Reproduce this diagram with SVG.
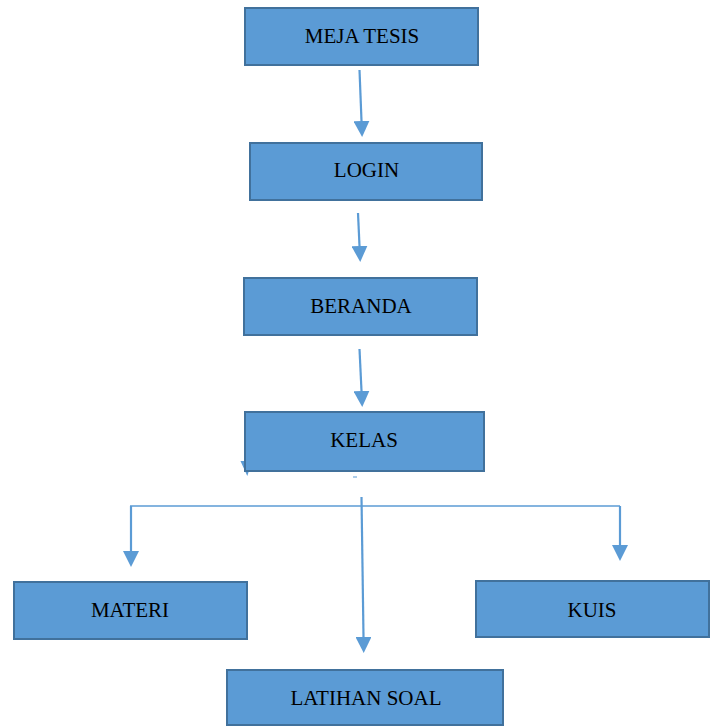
<svg xmlns="http://www.w3.org/2000/svg" width="716" height="726" viewBox="0 0 716 726">
<style>
.box{fill:#5B9BD5;stroke:#41719C;stroke-width:2}
.lbl{font-family:"Liberation Serif","Times New Roman",serif;font-size:21px;fill:#000;text-anchor:middle}
.con{stroke:#5B9BD5;stroke-width:2.2;fill:none}
.thin{stroke:#5B9BD5;stroke-width:1.5;fill:none}
</style>
<defs>
<marker id="ah" markerUnits="userSpaceOnUse" markerWidth="16" markerHeight="16" refX="0" refY="8" orient="auto" viewBox="0 0 16 16">
<path d="M0,0 L16,8 L0,16 z" fill="#5B9BD5"/>
</marker>
</defs>
<rect width="716" height="726" fill="#fff"/>
<g id="connectors">
<line class="con" x1="359.5" y1="70" x2="361.5" y2="121" marker-end="url(#ah)"/>
<line class="con" x1="358" y1="213" x2="359.5" y2="246" marker-end="url(#ah)"/>
<line class="con" x1="359.5" y1="349" x2="361.5" y2="391" marker-end="url(#ah)"/>
<path class="thin" d="M130,506 H620"/>
<line class="con" x1="361.5" y1="497" x2="363.5" y2="637" marker-end="url(#ah)"/>
<line class="con" x1="131" y1="506" x2="131" y2="551" marker-end="url(#ah)"/>
<line class="con" x1="620" y1="506" x2="620" y2="545" marker-end="url(#ah)"/>
<polygon points="240.5,461 252,461 247.3,476" fill="#5B9BD5"/>
<line x1="353" y1="477" x2="357" y2="477" stroke="#5B9BD5" stroke-width="1"/>
</g>
<g id="meja-tesis"><rect class="box" x="245" y="8" width="233" height="57"/><text class="lbl" x="362" y="43">MEJA TESIS</text></g>
<g id="login"><rect class="box" x="250" y="143" width="232" height="57"/><text class="lbl" x="366.5" y="177">LOGIN</text></g>
<g id="beranda"><rect class="box" x="244" y="278" width="233" height="57"/><text class="lbl" x="361" y="313">BERANDA</text></g>
<g id="kelas"><rect class="box" x="245" y="412" width="239" height="59"/><text class="lbl" x="364" y="447">KELAS</text></g>
<g id="materi"><rect class="box" x="14" y="582" width="233" height="57"/><text class="lbl" x="130" y="617">MATERI</text></g>
<g id="kuis"><rect class="box" x="476" y="581" width="233" height="56"/><text class="lbl" x="592" y="617">KUIS</text></g>
<g id="latihan-soal"><rect class="box" x="227" y="670" width="276" height="55"/><text class="lbl" x="366" y="705">LATIHAN SOAL</text></g>
</svg>
